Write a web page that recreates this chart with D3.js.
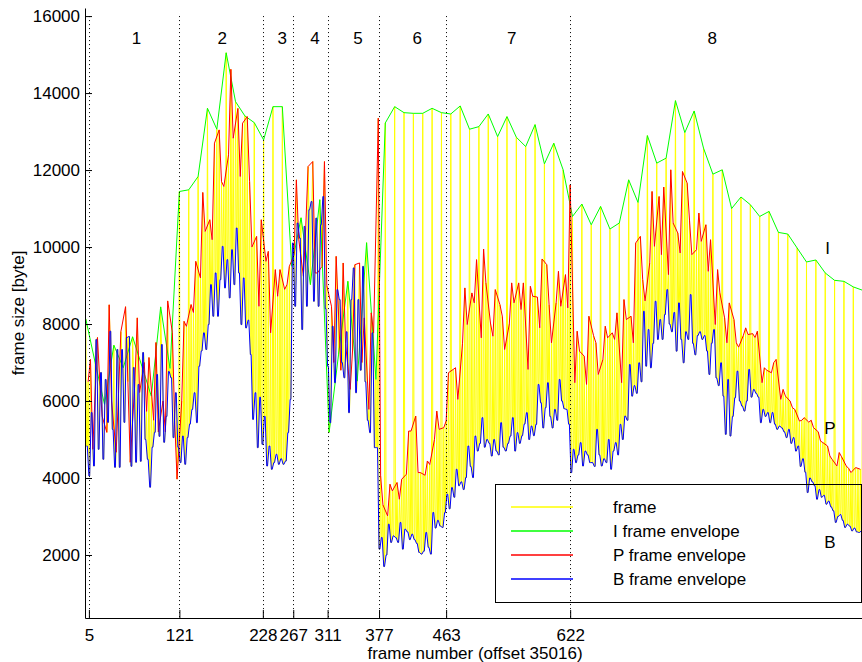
<!DOCTYPE html>
<html>
<head>
<meta charset="utf-8">
<script src="https://cdn.jsdelivr.net/npm/d3@7"></script>
<style>
  body { margin: 0; background: #fff; }
  svg { display: block; font-family: "Liberation Sans", Arial, Helvetica, sans-serif; }
</style>
</head>
<body>
<div class="plot-container"></div>
<script>
// *************************************
// DATA (frame sizes in byte, GOP = I B B P B B P B B P B B, I frames at 12k+1)
// *************************************

// one value per GOP
const iFrameSizes = [
  8134, 7000, 5912, 7450, 6863, 7668, 6900, 6128, 8445, 6846,
  11443, 11487, 11832, 13605, 13061, 15047, 13777, 13406, 13232, 12783,
  13647, 13647, 9500, 10760, 9025, 11230, 5186, 7200, 9110, 6516,
  10113, 6560, 13224, 13647, 13491, 13474, 13474, 13604, 13491, 13457,
  13665, 13061, 13128, 13457, 12869, 13388, 12853, 12610, 13180, 12161,
  12697, 12006, 10795, 11116, 10579, 11054, 10468, 10624, 11746, 11158,
  12895, 12180, 12309, 13803, 12973, 13535, 12568, 11894, 12006, 11000,
  11300, 11100, 10795, 10925, 10380, 10338, 9975, 9612, 9664, 9327,
  9135, 9109, 8964, 8876
];

// three values per GOP
const pFrameSizes = [
  // scene 1
  6500, 7079, 4745,  7650, 6500, 5600,  5186, 8500, 6000,  4668, 6200, 7805,  8450, 6500, 4408,
  6500, 8160, 6220,  7000, 5730, 7130,  5500, 7520, 5200,  6000, 5200, 8600,  7780, 5500, 3970,
  // scenes 2, 3
  6000, 8070, 7940,  8505, 8300, 9628,  9197, 11417, 10405,  10709, 10190, 12698,  13043, 11703, 11573,
  12395, 14617, 12827,  13600, 11832, 13217,  13388, 11703, 10000,  10276, 8461, 10709,  9628, 9887, 7771,
  9413, 8721, 9413,  8900, 9024, 9498,
  // scenes 4, 5
  9800, 11746, 10200,  9240, 10500, 12092,  12221, 9327, 9327,  9500, 12221, 9000,
  8461, 7000, 9758,  6800, 9586, 7500,  6301, 7300, 9542,  9586, 7000, 8160,  5782, 8290, 7771,
  // scene 6
  13347, 4053, 3300,  3016, 3838, 3664,  3882, 3449, 3967,  4097, 5220, 5220,  5609, 4141, 4141,
  4071, 4442, 4350,  5000, 5738, 5264,  5308, 5479, 6734,  6820, 6863, 6042,
  // scene 7
  7500, 8938, 7986,  8808, 8549, 9672,  7641, 9949, 9068,  8000, 7683, 8894,  8500, 8202, 7338,
  8000, 9068, 8549,  9068, 8376, 9068,  6820, 8980, 8721,  8700, 7901, 9690,  9542, 8500, 7512,
  8549, 9369, 8461,  9283, 8419, 11616,
  // scene 8
  6475, 7813, 7295,  7165, 6431, 8202,  7700, 7512, 6690,  7079, 7943, 7641,  7771, 7600, 8290,
  6475, 8635, 8116,  8202, 7512, 10105,  10276, 9153, 8600,  9586, 11443, 10017,  11313, 9801, 11557,
  9283, 12006, 10624,  10364, 9845, 11962,  11660, 10700, 9801,  9931, 10883, 10147,  10579, 9369, 10190,
  7986, 9413, 8800,  8160, 7512, 8549,  8116, 7512, 7400,  7700, 7900, 7727,  7750, 7650, 7813,
  6475, 6863, 6800,  6734, 6993, 7079,  6042, 6301, 6127,  5998, 5826, 5780,  5479, 5500, 5567,
  5450, 5500, 5308,  5200, 4960, 4919,  4831, 4571, 4480,  4312, 4660, 4550,  4312, 4250, 4141,
  4270, 4250, 4227
];

// four values per GOP, one for each pair of B frames
const bFrameSizes = [
  // scene 1
  4830, 4053, 5700, 4312,  7597, 4745, 6740, 4486,  6560, 5445, 7813, 5264,  4278, 7338, 4278, 7338,
  5445, 7650, 7675, 4304,  6870, 4408, 6430, 4434,  7260, 5000, 4486, 3760,  4800, 5186, 6690, 5082,
  7468, 4927, 5600, 6768,  6604, 5049, 6215, 4800,
  // scenes 2, 3
  4400, 5090, 4356, 5049,  5400, 5782, 6215, 5438,  6905, 7300, 7771, 7338,  7986, 9024, 8202, 9327,
  8202, 9153, 10017, 8938,  9672, 8679, 9931, 9024,  10494, 9327, 7986, 9197,  7900, 8100, 7208, 5523,
  6215, 4789, 6100, 4875,  5600, 4312, 4831, 4226,  4400, 4616, 4356, 4500,  4356, 4442, 5178, 6042,
  // scenes 4, 5
  10105, 8461, 10624, 10235,  7857, 10536, 8461, 10968,  11183, 8591, 10752, 8461,  10579, 11313, 8400, 6905,
  5437, 7943, 6475, 8894,  8635, 7000, 6604, 7800,  5697, 8635, 9456, 6215,  8635, 6800, 9498, 6500,
  5500, 5178, 7771, 4789,
  // scene 6
  4789, 2152, 2455, 1700,  2000, 2800, 2326, 2497,  2450, 2326, 2845, 2152,  2671, 2600, 2400, 2541,
  2400, 2300, 2067, 2023,  2100, 2585, 2200, 2023,  3104, 2700, 2900, 2750,  2715, 3100, 3578, 3200,
  3752, 3500, 4227, 3800,
  // scene 7
  3900, 3700, 4011, 4831,  4300, 4011, 5090, 4700,  4900, 5567, 4800, 5000,  4900, 4571, 5000, 4700,
  4600, 5437, 4800, 4701,  4900, 5090, 5567, 4700,  5178, 4900, 5100, 5400,  5697, 5000, 5350, 5100,
  5393, 6431, 5956, 5300,  5826, 6475, 5600, 5300,  5782, 5500, 6560, 6000,  5800, 5782, 5400, 4141,
  // scene 8
  4745, 4400, 4600, 4919,  4312, 4700, 4600, 4400,  4400, 4300, 5264, 4600,  4312, 4500, 4400, 5000,
  4227, 4700, 4919, 4600,  5393, 5000, 5609, 5500,  6949, 6127, 6400, 6200,  6993, 6500, 8332, 6905,
  7857, 6863, 7500, 8591,  7600, 8116, 7600, 8246,  8894, 8000, 7800, 8300,  7295, 8549, 7600, 6993,
  7800, 7600, 8765, 7500,  7200, 7700, 7800, 7600,  7700, 7300, 6690, 7500,  7857, 6600, 6400, 6993,
  6127, 5134, 6560, 5090,  5600, 6086, 6776, 6000,  5869, 5738, 6000, 6820,  6100, 6300, 6200, 6100,
  5437, 5782, 5600, 5700,  5437, 5700, 5400, 5264,  5350, 5300, 5200, 5050,  5264, 4900, 5050, 4700,
  4831, 4300, 4500, 4150,  3622, 4000, 3900, 3800,  3449, 3700, 3500, 3550,  3319, 3400, 3250, 3146,
  2845, 3000, 3050, 2900,  2715, 2800, 2750, 2627,  2700, 2600, 2585, 2620
];

const gopPattern = ["I", "B", "B", "P", "B", "B", "P", "B", "B", "P", "B", "B"];

const sceneCuts = [5, 121, 228, 267, 311, 377, 463, 622];
const sceneNames = ["1", "2", "3", "4", "5", "6", "7", "8"];
const sceneNameFrames = [66, 176, 253, 295, 350, 426, 547, 804];

const yTicks = [2000, 4000, 6000, 8000, 10000, 12000, 14000, 16000];

const envelopeNames = ["I", "P", "B"];
const envelopeNameFrames = [952, 955, 955];
const envelopeNameSizes = [9975, 5300, 2340];

const legendNames = ["frame", "I frame envelope", "P frame envelope", "B frame envelope"];
const legendKeys = ["frame", "I", "P", "B"];
const seriesColors = { frame: "#ffff00", I: "#00ff00", P: "#ff0000", B: "#0000ff" };

// *************************************
// BUILD FRAME SEQUENCE
// *************************************

let frames = [];
let gopCount = pFrameSizes.length / 3;
for (let k = 0; k < gopCount; k++) {
  let pCount = 0, bCount = 0;
  gopPattern.forEach((type, j) => {
    let size;
    if (type === "I") size = iFrameSizes[k];
    else if (type === "P") size = pFrameSizes[3 * k + pCount++];
    else size = bFrameSizes[4 * k + Math.floor(bCount++ / 2)];
    frames.push({ frame: 12 * k + 1 + j, size: size, type: type });
  });
}
frames.push({ frame: 12 * gopCount + 1, size: iFrameSizes[gopCount], type: "I" });

// *************************************
// SVG AND SCALES
// *************************************

const width = 862, height = 662;
const fontSize = 17;

const svg = d3.select("body")
  .select("div.plot-container")
  .append("svg")
  .attr("width", width)
  .attr("height", height);

const x = d3.scaleLinear().domain([0, 1000]).range([85, 865]);
const y = d3.scaleLinear().domain([363, 16210]).range([618, 8]);

svg.append("clipPath")
   .attr("id", "plot-clip")
   .append("rect")
   .attr("x", x(0))
   .attr("y", y(16210))
   .attr("width", x(1000) - x(0))
   .attr("height", y(363) - y(16210));

// *************************************
// DATA LINES
// *************************************

const line = d3.line()
  .x((d) => x(d.frame))
  .y((d) => y(d.size));

const plot = svg.append("g").attr("clip-path", "url(#plot-clip)");

let seriesData = [
  { key: "frame", values: frames },
  { key: "I", values: frames.filter((d) => d.type === "I") },
  { key: "P", values: frames.filter((d) => d.type === "P") },
  { key: "B", values: frames.filter((d) => d.type === "B") }
];

plot.selectAll("path.series")
    .data(seriesData)
    .join("path")
    .attr("class", "series")
    .attr("d", (s) => line(s.values))
    .attr("fill", "none")
    .attr("stroke", (s) => seriesColors[s.key])
    .attr("stroke-width", 1)
    .attr("stroke-linejoin", "round");

// scene boundaries (dotted)
svg.selectAll("line.cut")
   .data(sceneCuts)
   .join("line")
   .attr("class", "cut")
   .attr("x1", (d) => Math.round(x(d)) + 0.5)
   .attr("x2", (d) => Math.round(x(d)) + 0.5)
   .attr("y1", y(16000))
   .attr("y2", y(363))
   .attr("stroke", "#000")
   .attr("stroke-width", 1)
   .attr("stroke-dasharray", "1,3");

// *************************************
// AXES
// *************************************

const yAxis = svg.append("g")
  .attr("transform", `translate(${x(0)},0)`)
  .call(d3.axisLeft(y).tickValues(yTicks).tickSizeInner(-7).tickSizeOuter(0).tickPadding(5).tickFormat(d3.format("d")));

const xAxis = svg.append("g")
  .attr("transform", `translate(0,${y(363)})`)
  .call(d3.axisBottom(x).tickValues(sceneCuts).tickSizeInner(-8).tickSizeOuter(0).tickPadding(11).tickFormat(d3.format("d")));

[yAxis, xAxis].forEach((axis) => {
  axis.attr("font-family", null).attr("font-size", null);
  axis.selectAll("text").style("font-size", fontSize + "px").attr("fill", "#000");
  axis.selectAll("line, path").attr("stroke", "#000");
});

svg.append("text")
   .attr("x", (x(0) + x(1000)) / 2)
   .attr("y", 659)
   .attr("text-anchor", "middle")
   .style("font-size", fontSize + "px")
   .text("frame number (offset 35016)");

svg.append("text")
   .attr("transform", `translate(24,${(y(363) + y(16210)) / 2}) rotate(-90)`)
   .attr("text-anchor", "middle")
   .style("font-size", fontSize + "px")
   .text("frame size [byte]");

// *************************************
// ANNOTATIONS
// *************************************

svg.selectAll("text.scene")
   .data(sceneNames)
   .join("text")
   .attr("class", "scene")
   .attr("x", (d, i) => x(sceneNameFrames[i]))
   .attr("y", 44)
   .attr("text-anchor", "middle")
   .style("font-size", fontSize + "px")
   .text((d) => d);

svg.selectAll("text.envelope")
   .data(envelopeNames)
   .join("text")
   .attr("class", "envelope")
   .attr("x", (d, i) => x(envelopeNameFrames[i]))
   .attr("y", (d, i) => y(envelopeNameSizes[i]))
   .attr("dy", "0.36em")
   .attr("text-anchor", "middle")
   .style("font-size", fontSize + "px")
   .text((d) => d);

// *************************************
// LEGEND (transparent box, data shows through)
// *************************************

const legend = svg.append("g");
legend.append("rect")
      .attr("x", 495.5)
      .attr("y", 484.5)
      .attr("width", 366)
      .attr("height", 118)
      .attr("fill", "none")
      .attr("stroke", "#000");

const legendRows = legend.selectAll("g.row")
  .data(legendNames)
  .join("g")
  .attr("class", "row")
  .attr("transform", (d, i) => `translate(0,${507 + i * 24})`);

legendRows.append("line")
  .attr("x1", 511)
  .attr("x2", 573)
  .attr("stroke", (d, i) => seriesColors[legendKeys[i]])
  .attr("stroke-width", 1.5);

legendRows.append("text")
  .attr("x", 613)
  .attr("dy", "0.36em")
  .style("font-size", fontSize + "px")
  .text((d) => d);
</script>
</body>
</html>
